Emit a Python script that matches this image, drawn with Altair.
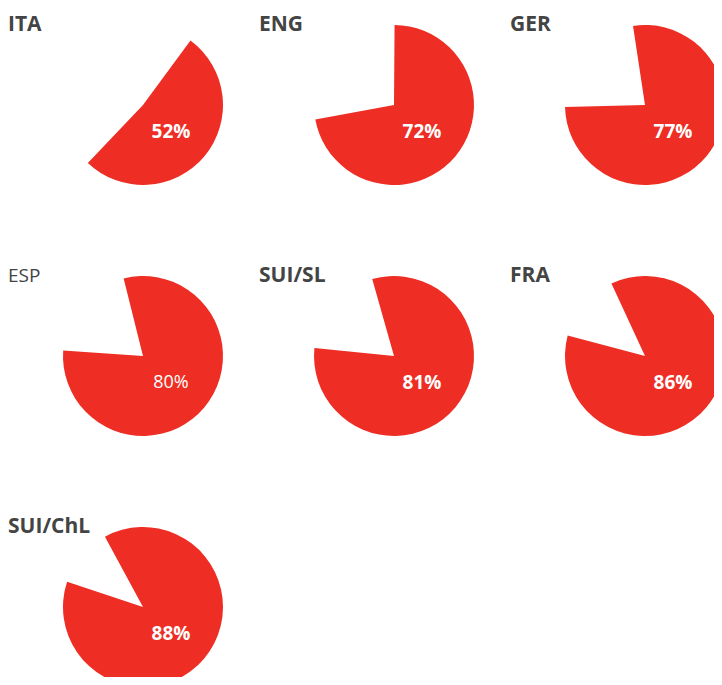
import altair as alt
import pandas as pd

countries = ["ITA", "ENG", "GER", "ESP", "SUI/SL", "FRA", "SUI/ChL"]
shares = [52, 72, 77, 80, 81, 86, 88]
bold_flags = [True, True, True, False, True, True, True]

RED = "#EE2E24"
GREY = "#444444"
MID_DEG = 130  # direction the centre of each slice points to (clockwise from 12 o'clock)
R = 80

df = pd.DataFrame({
    "country": countries,
    "share": shares,
    "bold": bold_flags,
    "idx": list(range(len(countries))),
})

base = alt.Chart(df).transform_calculate(
    col="datum.idx % 3",
    row="floor(datum.idx / 3)",
    t0=f"PI*{MID_DEG}/180 - datum.share/100*PI",
    t1=f"PI*{MID_DEG}/180 + datum.share/100*PI",
    label="datum.share + '%'",
)

xenc = alt.X("col:Q", scale=alt.Scale(domain=[0, 2], range=[135, 637]), axis=None)
yenc = alt.Y("row:Q", scale=alt.Scale(domain=[0, 2], range=[97, 599]), axis=None)

arc = base.mark_arc(radius=R, color=RED).encode(
    theta=alt.Theta("t0:Q", scale=None, stack=None),
    theta2="t1:Q",
    x=xenc,
    y=yenc,
)

pct_bold = base.transform_filter("datum.bold").mark_text(
    color="white", font="Open Sans", fontSize=19, fontWeight="bold",
    dx=28, dy=27, align="center", baseline="middle",
).encode(text="label:N", x=xenc, y=yenc)

pct_norm = base.transform_filter("!datum.bold").mark_text(
    color="white", font="Open Sans", fontSize=18, fontWeight="normal",
    dx=28, dy=27, align="center", baseline="middle",
).encode(text="label:N", x=xenc, y=yenc)

title_bold = base.transform_filter("datum.bold").mark_text(
    color=GREY, font="Open Sans", fontSize=21, fontWeight="bold",
    dx=-135, dy=-74, align="left", baseline="alphabetic",
).encode(text="country:N", x=xenc, y=yenc)

title_norm = base.transform_filter("!datum.bold").mark_text(
    color=GREY, font="Open Sans", fontSize=19, fontWeight="normal",
    dx=-135, dy=-74, align="left", baseline="alphabetic",
).encode(text="country:N", x=xenc, y=yenc)

chart = alt.layer(arc, pct_bold, pct_norm, title_bold, title_norm).properties(
    width=706, height=669, autosize=alt.AutoSizeParams(type="none")
).configure(padding=0, background="white").configure_view(stroke=None)

chart.save("out.html", embed_options={"renderer": "svg", "actions": False})
